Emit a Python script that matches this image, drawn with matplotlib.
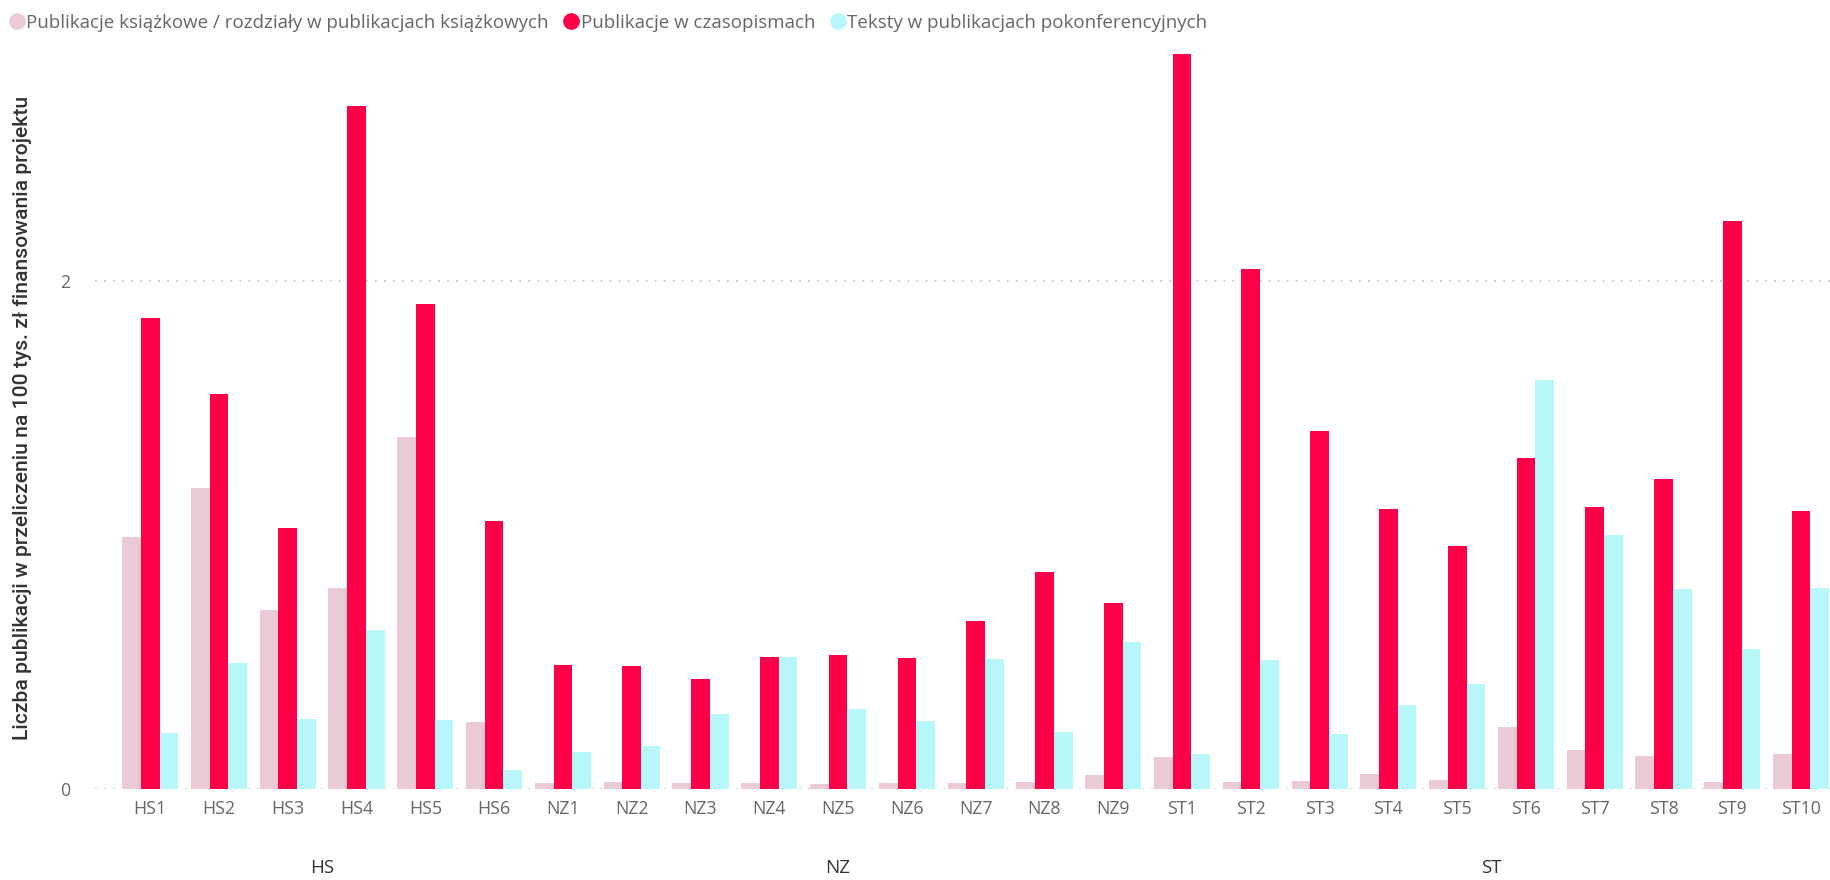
import numpy as np
import matplotlib
matplotlib.use("Agg")
import matplotlib.pyplot as plt
from matplotlib.transforms import blended_transform_factory
from matplotlib.lines import Line2D

# dane
kategorie = ["HS1", "HS2", "HS3", "HS4", "HS5", "HS6",
             "NZ1", "NZ2", "NZ3", "NZ4", "NZ5", "NZ6", "NZ7", "NZ8", "NZ9",
             "ST1", "ST2", "ST3", "ST4", "ST5", "ST6", "ST7", "ST8", "ST9", "ST10"]
grupy = ["HS", "NZ", "ST"]

ksiazkowe = [0.993, 1.186, 0.703, 0.791, 1.384, 0.262,
             0.023, 0.028, 0.023, 0.023, 0.018, 0.023, 0.023, 0.028, 0.055,
             0.124, 0.028, 0.032, 0.060, 0.037, 0.244, 0.152, 0.129, 0.028, 0.138]
czasopisma = [1.855, 1.554, 1.025, 2.689, 1.910, 1.053,
              0.487, 0.483, 0.432, 0.520, 0.529, 0.515, 0.662, 0.855, 0.731,
              2.890, 2.046, 1.407, 1.103, 0.956, 1.301, 1.108, 1.218, 2.234, 1.094]
konferencje = [0.220, 0.497, 0.276, 0.625, 0.271, 0.074,
               0.147, 0.170, 0.294, 0.520, 0.313, 0.267, 0.510, 0.225, 0.579,
               0.138, 0.506, 0.216, 0.331, 0.414, 1.609, 0.998, 0.786, 0.552, 0.791]

serie = ["Publikacje książkowe / rozdziały w publikacjach książkowych",
         "Publikacje w czasopismach",
         "Teksty w publikacjach pokonferencyjnych"]
kolory = ["#EACBD5", "#FF0048", "#B8F7F9"]

plt.rcParams['font.family'] = ['Open Sans', 'DejaVu Sans']

fig = plt.figure(figsize=(18.3, 8.8), dpi=100)
ax = fig.add_axes([0.052, 0.1034, 0.948, 0.852])

x = np.arange(len(kategorie))
w = 0.272
for i, (vals, kol) in enumerate(zip([ksiazkowe, czasopisma, konferencje], kolory)):
    ax.bar(x + (i - 1) * w, vals, width=w, color=kol, zorder=2)

ax.set_xlim(-0.8, 24.42)
ax.set_ylim(0, 2.95)
ax.set_yticks([0, 2])
ax.set_yticklabels(["0", "2"])
ax.yaxis.grid(True, color="#C8C8C8", linestyle=(0, (1, 4)), linewidth=1.3, zorder=0)
ax.set_axisbelow(True)
for s in ax.spines.values():
    s.set_visible(False)

ax.set_xticks(x)
ax.set_xticklabels(kategorie)
ax.tick_params(axis="x", length=0, pad=8, labelsize=12.8, labelcolor="#666666")
ax.tick_params(axis="y", length=0, pad=18, labelsize=12.8, labelcolor="#666666")

# etykiety grup
tr = blended_transform_factory(ax.transData, fig.transFigure)
prefiksy = [k[:2] for k in kategorie]
for g in grupy:
    idx = [i for i, p in enumerate(prefiksy) if p == g]
    ax.text((idx[0] + idx[-1]) / 2, 0.0136, g, transform=tr, ha="center", va="center",
            fontsize=13.5, color="#333333")

fig.text(0.0125, 0.525, "Liczba publikacji w przeliczeniu na 100 tys. zł finansowania projektu",
         rotation=90, ha="center", va="center", fontsize=15.2, color="#333333",
         family=["Roboto", "DejaVu Sans"], weight="medium")

uchwyty = [Line2D([], [], marker="o", linestyle="", markersize=11, color=k) for k in kolory]
fig.legend(uchwyty, serie, loc="center left", bbox_to_anchor=(0.0, 0.974), ncol=3, frameon=False,
           fontsize=13.5, labelcolor="#666666", handletextpad=0.0, columnspacing=0.7,
           borderaxespad=0.0, handlelength=1.0)

fig.savefig("out.png", dpi=100)
